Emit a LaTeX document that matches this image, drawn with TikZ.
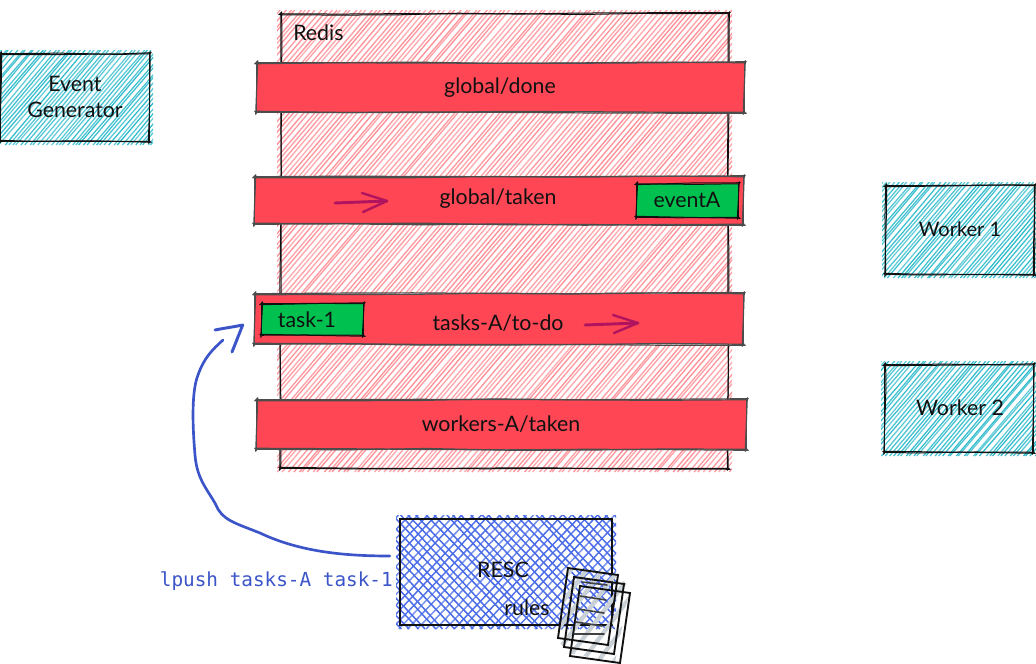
\documentclass[tikz,border=0pt]{standalone}
\usepackage{fontspec}
\setmainfont{Lato}
\newfontfamily\monofam{DejaVu Sans Mono}
\usetikzlibrary{decorations.pathmorphing,calc}
\definecolor{redfill}{HTML}{FF4655}
\definecolor{redh}{HTML}{FF8F96}
\definecolor{cyanh}{HTML}{2BBACB}
\definecolor{blueh}{HTML}{4A6BE8}
\definecolor{greenfill}{HTML}{00C04F}
\definecolor{inkblue}{HTML}{3B55C9}
\definecolor{plum}{HTML}{B0145F}
\definecolor{ink}{HTML}{111111}
\definecolor{papergrey}{HTML}{C9D0D6}
\tikzset{
  x=0.75pt,y=-0.75pt,
  handtext/.style={font=\fontsize{16}{19.5}\selectfont,text=ink,align=center,inner sep=0pt},
  boxnode/.style={inner sep=0pt,anchor=center},
  rough/.style={draw=ink,line width=0.75pt,line cap=round,decorate,decoration={random steps,segment length=45pt,amplitude=0.6pt}},
  greyrough/.style={draw=black!70,line width=0.9pt,line cap=round,decorate,decoration={random steps,segment length=60pt,amplitude=0.7pt}},
  pen/.style={draw=#1,line cap=round,line join=round},
  paper/.style={draw=ink,line width=1.4pt,line join=miter},
  paperline/.style={draw=ink!80,line width=1.2pt,line cap=round},
}
% name, x1, y1, x2, y2
\newcommand{\mkbox}[5]{%
  \pgfmathsetmacro{\cxx}{(#2+#4)/2}\pgfmathsetmacro{\cyy}{(#3+#5)/2}%
  \pgfmathsetmacro{\wdd}{(#4-#2)*0.75}\pgfmathsetmacro{\htt}{(#5-#3)*0.75}%
  \node[boxnode,minimum width=\wdd pt,minimum height=\htt pt] (#1) at (\cxx,\cyy) {};%
}
% x1 x2 y1 y2 colour step ratio width : rising lines
\newcommand{\hatchit}[8]{%
  \begin{scope}
  \clip (#1-4,#3-4) rectangle (#2+4,#4+4);
  \pgfmathsetmacro{\hh}{#4-#3+8}
  \pgfmathsetmacro{\run}{\hh*#7}
  \pgfmathsetmacro{\startx}{#1-\run-#6}
  \pgfmathsetmacro{\nextx}{\startx+#6}
  \pgfmathsetmacro{\endx}{#2+#6}
  \foreach \xx in {\startx,\nextx,...,\endx}{
    \pgfmathsetmacro{\ja}{\xx+1.5*rand}
    \pgfmathsetmacro{\jb}{\xx+\run+1.5*rand}
    \pgfmathsetmacro{\oo}{0.85+0.15*rand}
    \draw[#5,line width=#8,opacity=\oo] (\ja,#4+4) -- (\jb,#3-4);
  }
  \end{scope}%
}
% falling lines
\newcommand{\hatchback}[8]{%
  \begin{scope}
  \clip (#1-4,#3-4) rectangle (#2+4,#4+4);
  \pgfmathsetmacro{\hh}{#4-#3+8}
  \pgfmathsetmacro{\run}{\hh*#7}
  \pgfmathsetmacro{\startx}{#1-\run-#6}
  \pgfmathsetmacro{\nextx}{\startx+#6}
  \pgfmathsetmacro{\endx}{#2+#6}
  \foreach \xx in {\startx,\nextx,...,\endx}{
    \pgfmathsetmacro{\ja}{\xx+2.5*rand}
    \pgfmathsetmacro{\jb}{\xx+\run+2.5*rand}
    \draw[#5,line width=#8] (\ja,#3-4) -- (\jb,#4+4);
  }
  \end{scope}%
}
\newcommand{\outline}[2]{%
  \draw[#2] ([shift={(-1,0)}]#1.north west) -- ([shift={(1,0)}]#1.north east);%
  \draw[#2] ([shift={(0,-1)}]#1.north east) -- ([shift={(0,1)}]#1.south east);%
  \draw[#2] ([shift={(1,0)}]#1.south east) -- ([shift={(-1,0)}]#1.south west);%
  \draw[#2] ([shift={(0,1)}]#1.south west) -- ([shift={(0,-1)}]#1.north west);%
  \draw[#2] ([shift={(-2,1)}]#1.north west) -- ([shift={(2,-1)}]#1.north east);%
  \draw[#2] ([shift={(1,-2)}]#1.north east) -- ([shift={(-1,2)}]#1.south east);%
  \draw[#2] ([shift={(2,1)}]#1.south east) -- ([shift={(-2,-1)}]#1.south west);%
  \draw[#2] ([shift={(-1,2)}]#1.south west) -- ([shift={(1,-2)}]#1.north west);%
}
\begin{document}
\begin{tikzpicture}
\pgfmathsetseed{4242}
\useasboundingbox (0,0) rectangle (1036,664);
\fill[white] (0,0) rectangle (1036,664);

% Redis
\mkbox{redis}{281}{14}{728}{468}
\hatchit{281}{728}{14}{468}{redh}{5}{0.85}{1pt}
\outline{redis}{rough}
\node[handtext,anchor=west] (redislabel) at (293,33) {Redis};

% Bars
\foreach \nm/\xa/\ya/\xb/\yb in {done/257/63/744/112,taken/255/177/743/224,todo/255/294/743/344,wtaken/257/400/746/449}{
  \mkbox{\nm}{\xa}{\ya}{\xb}{\yb}
  \fill[redfill] (\nm.north west) rectangle (\nm.south east);
  \outline{\nm}{greyrough}
}
\node[handtext] (donelabel) at (500,88) {global/done};
\node[handtext] (takenlabel) at (498,199) {global/taken};
\node[handtext] (todolabel) at (498,323) {tasks-A/to-do};
\node[handtext] (wtakenlabel) at (501,424) {workers-A/taken};

% Green chips
\mkbox{eventa}{637}{184}{738}{217}
\fill[greenfill] (eventa.north west) rectangle (eventa.south east);
\outline{eventa}{rough}
\node[handtext] (eventlabel) at (687,200) {eventA};
\mkbox{taskone}{262}{304}{363}{335}
\fill[greenfill] (taskone.north west) rectangle (taskone.south east);
\outline{taskone}{rough}
\node[handtext] (tasklabel) at (307,320) {task-1};

% Plum arrows
\coordinate (pa1) at (335,203); \coordinate (pa2) at (387,201);
\draw[pen=plum,line width=2.2pt] (pa1) -- (pa2);
\draw[pen=plum,line width=1.8pt] (362,193) -- (pa2) -- (363,212);
\coordinate (pb1) at (585,325); \coordinate (pb2) at (638,323);
\draw[pen=plum,line width=2.2pt] (pb1) -- (pb2);
\draw[pen=plum,line width=1.8pt] (613,315) -- (pb2) -- (614,333);

% Event generator and workers
\mkbox{gen}{1}{54}{149}{141}
\hatchit{1}{149}{54}{141}{cyanh}{4.2}{0.85}{0.95pt}
\outline{gen}{rough}
\node[handtext] (genlabel) at (75,97) {Event\\Generator};
\mkbox{wone}{886}{186}{1034}{274}
\hatchit{886}{1034}{186}{274}{cyanh}{4.2}{0.85}{0.95pt}
\outline{wone}{rough}
\node[handtext,font=\fontsize{15}{18}\selectfont] (wonelabel) at (960,229) {Worker 1};
\mkbox{wtwo}{885}{365}{1033}{452}
\hatchit{885}{1033}{365}{452}{cyanh}{4.2}{0.85}{0.95pt}
\outline{wtwo}{rough}
\node[handtext] (wtwolabel) at (960,408) {Worker 2};

% RESC
\mkbox{resc}{400}{519}{612}{625}
\hatchit{400}{612}{519}{625}{blueh}{9}{0.95}{1.1pt}
\hatchback{400}{612}{519}{625}{blueh}{9}{0.95}{1.1pt}
\draw[ink,line width=1.8pt] (resc.north west) rectangle (resc.south east);
\node[handtext] (resclabel) at (503,570) {RESC};
\node[handtext] (ruleslabel) at (527,608) {rules};

% Papers
\begin{scope}
  \clip (568,568) -- (618,575) -- (630,587) -- (615,662) -- (568,653) -- (558,640) -- cycle;
  \foreach \gx in {500,516,...,680}{
    \draw[papergrey,line width=3.2pt] (\gx,664) -- (\gx+75,564);
  }
\end{scope}
\foreach \dx/\dy in {12/18,6/9,0/0}{
  \begin{scope}[shift={(\dx,\dy)}]
    \draw[paper] (568,568) -- (618,575) -- (608,645) -- (558,638) -- cycle;
  \end{scope}
}
\foreach \ya/\yb/\xa/\xb in {582/585/582/607,596/600/580/606,609/613/578/604,622/626/576/602,634/634/574/604}{
  \draw[paperline] (\xa,\ya) -- (\xb,\yb);
}

% Blue connector
\coordinate (bstart) at ([shift={(-10,-16)}]resc.west);
\coordinate (btip) at ([shift={(-12,6)}]todo.west);
\draw[pen=inkblue,line width=2pt] (bstart) .. controls (345,556) and (300,552) .. (260,533)
  .. controls (235,523) and (222,520) .. (216,505)
  .. controls (208,490) and (197,480) .. (195,455)
  .. controls (192,420) and (192,390) .. (198,375)
  .. controls (204,358) and (212,350) .. (223,340);
\draw[pen=inkblue,line width=2.2pt] (215,330) .. controls (225,328) and (233,327) .. (btip) -- (232,352);
\node[font=\fontsize{14.5}{17}\selectfont\monofam,text=inkblue,anchor=east,inner sep=0pt] (lpush) at (393,581) {lpush tasks-A task-1};
\end{tikzpicture}
\end{document}
